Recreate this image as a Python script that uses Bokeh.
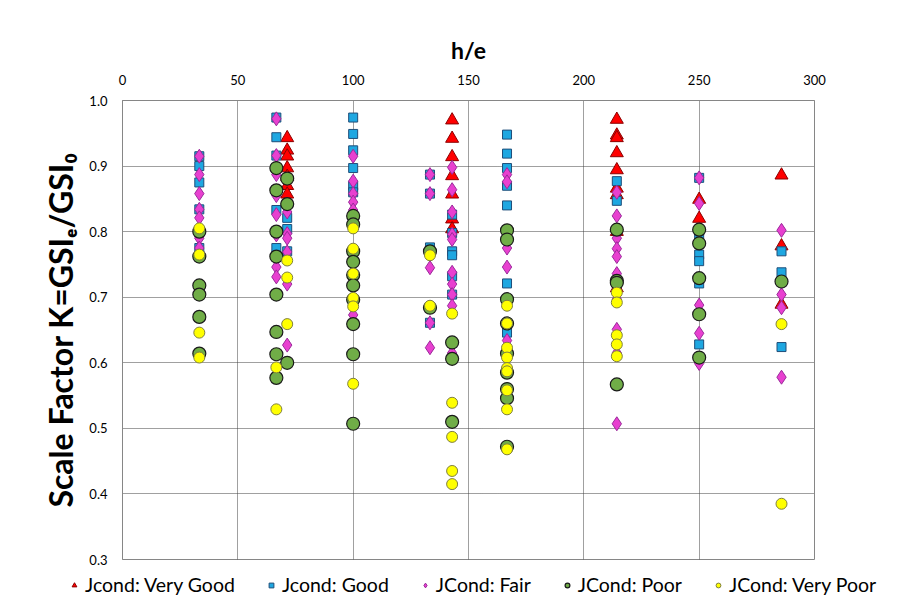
from bokeh.plotting import figure
from bokeh.models import Legend, LegendItem, NumeralTickFormatter, FixedTicker
from bokeh.embed import file_html
from bokeh.resources import INLINE

# ---------------- data ----------------
x_ticks = [0, 50, 100, 150, 200, 250, 300]
y_ticks = [0.3, 0.4, 0.5, 0.6, 0.7, 0.8, 0.9, 1.0]

series_names = ["Jcond: Very Good", "Jcond: Good", "JCond: Fair", "JCond: Poor", "JCond: Very Poor"]

vg_x = [71.4]*7 + [142.9]*7 + [214.3]*9 + [250]*2 + [285.7]*3
vg_y = [0.943, 0.924, 0.915, 0.897, 0.884, 0.870, 0.857,
        0.970, 0.942, 0.914, 0.885, 0.857, 0.819, 0.804,
        0.971, 0.947, 0.943, 0.920, 0.894, 0.866, 0.856, 0.800, 0.714,
        0.849, 0.820,
        0.886, 0.778, 0.689]

g_x = [33.3]*5 + [66.7]*6 + [71.4]*3 + [100]*6 + [133.3]*4 + [142.9]*6 + [166.7]*7 + [214.3]*2 + [250]*6 + [285.7]*3
g_y = [0.915, 0.900, 0.875, 0.834, 0.775,
       0.974, 0.944, 0.916, 0.833, 0.800, 0.775,
       0.821, 0.804, 0.770,
       0.974, 0.949, 0.924, 0.897, 0.870, 0.860,
       0.887, 0.858, 0.776, 0.661,
       0.826, 0.798, 0.770, 0.764, 0.732, 0.704,
       0.948, 0.919, 0.897, 0.870, 0.840, 0.721, 0.646,
       0.877, 0.847,
       0.882, 0.796, 0.765, 0.755, 0.721, 0.628,
       0.770, 0.738, 0.624]

f_x = [33.3]*7 + [66.7]*8 + [71.4]*6 + [100]*6 + [133.3]*5 + [142.9]*10 + [166.7]*5 + [214.3]*10 + [250]*5 + [285.7]*4
f_y = [0.915, 0.887, 0.858, 0.834, 0.821, 0.790, 0.775,
       0.972, 0.916, 0.887, 0.855, 0.826, 0.795, 0.746, 0.731,
       0.830, 0.797, 0.790, 0.769, 0.720, 0.627,
       0.915, 0.877, 0.858, 0.845, 0.833, 0.673,
       0.887, 0.858, 0.745, 0.661, 0.623,
       0.898, 0.864, 0.830, 0.796, 0.788, 0.738, 0.720, 0.704, 0.687, 0.615,
       0.887, 0.876, 0.775, 0.746, 0.634,
       0.860, 0.824, 0.790, 0.774, 0.762, 0.736, 0.697, 0.651, 0.615, 0.507,
       0.882, 0.843, 0.688, 0.645, 0.599,
       0.802, 0.704, 0.684, 0.578]

p_x = [33.3]*6 + [66.7]*8 + [71.4]*3 + [100]*10 + [133.3]*2 + [142.9]*3 + [166.7]*9 + [214.3]*4 + [250]*5 + [285.7]*1
p_y = [0.800, 0.762, 0.718, 0.704, 0.670, 0.614,
       0.897, 0.863, 0.800, 0.762, 0.704, 0.647, 0.613, 0.577,
       0.881, 0.842, 0.600,
       0.824, 0.811, 0.770, 0.754, 0.734, 0.718, 0.696, 0.659, 0.613, 0.507,
       0.770, 0.684,
       0.631, 0.606, 0.510,
       0.802, 0.788, 0.697, 0.660, 0.614, 0.585, 0.560, 0.546, 0.472,
       0.803, 0.725, 0.722, 0.567,
       0.803, 0.782, 0.729, 0.674, 0.608,
       0.724]

vp_x = [33.3]*4 + [66.7]*2 + [71.4]*3 + [100]*6 + [133.3]*2 + [142.9]*5 + [166.7]*9 + [214.3]*5 + [285.7]*2
vp_y = [0.805, 0.765, 0.646, 0.608,
        0.593, 0.529,
        0.756, 0.730, 0.659,
        0.805, 0.774, 0.736, 0.699, 0.686, 0.568,
        0.764, 0.687,
        0.675, 0.539, 0.487, 0.435, 0.415,
        0.687, 0.660, 0.623, 0.608, 0.592, 0.587, 0.558, 0.529, 0.468,
        0.707, 0.692, 0.642, 0.628, 0.610,
        0.659, 0.385]

FONT = "Lato"

styles = [
    dict(marker="triangle", size=13, fill_color="#FF0000", line_color="#8B0000", line_width=1),
    dict(marker="square", size=9, fill_color="#1EA7E1", line_color="#1F4E79", line_width=1),
    dict(marker="diamond", size=14, fill_color="#E840D0", line_color="#9A2A9A", line_width=1),
    dict(marker="circle", size=13, fill_color="#70AD47", line_color="#1A1A1A", line_width=1.2),
    dict(marker="circle", size=11, fill_color="#FFFF00", line_color="#7F7F3F", line_width=1),
]

p = figure(frame_width=692, frame_height=459, x_range=(0, 300), y_range=(0.3, 1.0),
           x_axis_location="above", output_backend="svg", toolbar_location=None,
           min_border_left=122, min_border_top=100, min_border_right=86, min_border_bottom=8)
p.background_fill_color = "white"
p.border_fill_color = "white"
p.outline_line_color = "#868686"
p.outline_line_width = 1

# axes
p.xaxis.ticker = FixedTicker(ticks=x_ticks)
p.yaxis.ticker = FixedTicker(ticks=y_ticks)
p.yaxis.formatter = NumeralTickFormatter(format="0.0")
p.xaxis.axis_label = "h/e"
p.yaxis.axis_label = "Scale Factor K=GSI\u2091/GSI\u2080"
for ax in (p.xaxis, p.yaxis):
    ax.major_tick_line_color = None
    ax.minor_tick_line_color = None
    ax.axis_line_color = "#868686"
    ax.major_label_text_font = FONT
    ax.major_label_text_font_size = "13px"
    ax.major_label_text_color = "#000000"
    ax.axis_label_text_font = FONT
    ax.axis_label_text_font_style = "bold"
    ax.axis_label_text_color = "#000000"
p.xaxis.axis_label_text_font_size = "23px"
p.yaxis.axis_label_text_font_size = "32px"
p.xaxis.major_label_standoff = 10
p.xaxis.axis_label_standoff = 8
p.yaxis.major_label_standoff = 9
p.yaxis.axis_label_standoff = 6

# grid
p.xgrid.ticker = FixedTicker(ticks=x_ticks)
p.ygrid.ticker = FixedTicker(ticks=y_ticks)
for g in (p.xgrid, p.ygrid):
    g.grid_line_color = "#404040"
    g.grid_line_dash = "1 1"
    g.grid_line_width = 1

# series
all_x = [vg_x, g_x, f_x, p_x, vp_x]
all_y = [vg_y, g_y, f_y, p_y, vp_y]
for xs, ys, st in zip(all_x, all_y, styles):
    p.scatter(xs, ys, **st)

# legend strip below the chart (separate root, not frame-aligned)
lg = figure(width=900, height=34, x_range=(0, 1), y_range=(0, 1),
            x_axis_type=None, y_axis_type=None, output_backend="svg", toolbar_location=None,
            min_border_left=0, min_border_right=0, min_border_top=0, min_border_bottom=0)
lg.outline_line_color = None
lg.background_fill_color = "white"
lg.border_fill_color = "white"
lg.xgrid.visible = False
lg.ygrid.visible = False
items = []
nan = float("nan")
for name, st in zip(series_names, styles):
    r = lg.scatter([nan], [nan], **st)
    items.append(LegendItem(label=name, renderers=[r]))
legend = Legend(items=items, orientation="horizontal", location=(68, 5))
legend.label_text_font = FONT
legend.label_text_font_size = "19.5px"
legend.label_text_color = "#000000"
legend.glyph_width = 12
legend.glyph_height = 20
legend.label_standoff = 5
legend.spacing = 30
legend.padding = 2
legend.margin = 0
legend.border_line_color = None
legend.background_fill_alpha = 0
lg.add_layout(legend, "center")

open("out.html", "w").write(file_html([p, lg], INLINE))
